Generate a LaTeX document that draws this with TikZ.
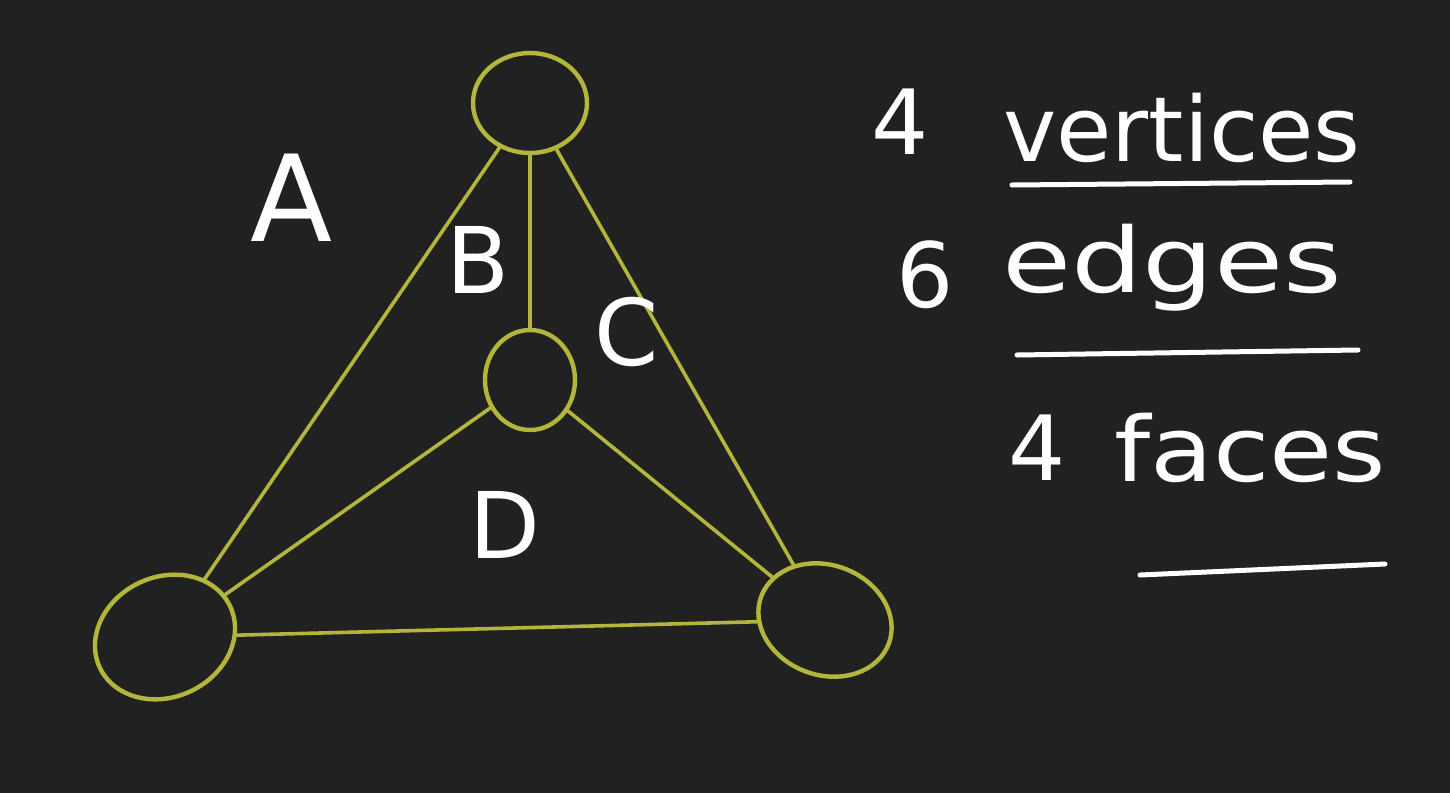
\documentclass[tikz,border=0pt]{standalone}
\usepackage{fontspec}
\setmainfont{DejaVu Sans}
\usetikzlibrary{shapes.geometric}
\definecolor{bg}{HTML}{212121}
\definecolor{olive}{HTML}{B3B63A}
\tikzset{
  vert/.style={draw=olive, line width=2.2pt, ellipse, inner sep=0pt},
  edge/.style={draw=olive, line width=1.8pt, line cap=round},
  lbl/.style={text=white, font=\fontsize{46}{46}\selectfont},
  txt/.style={text=white, font=\fontsize{45}{45}\selectfont}
}
\begin{document}
\begin{tikzpicture}[x=0.5pt,y=-0.5pt]
\fill[bg] (0,0) rectangle (1450,793);
\useasboundingbox (0,0) rectangle (1450,793);
\node[vert, minimum width=57pt, minimum height=50pt] (top) at (530,103) {};
\node[vert, minimum width=45pt, minimum height=50pt] (mid) at (530,380) {};
\node[vert, minimum width=72pt, minimum height=60pt, rotate=25] (left) at (165,637) {};
\node[vert, minimum width=68pt, minimum height=55pt, rotate=-20] (right) at (825,620) {};
\draw[edge] (top) -- (left);
\draw[edge] (top) -- (mid);
\draw[edge] (top) -- (right);
\draw[edge] (mid) -- (left);
\draw[edge] (mid) -- (right);
\draw[edge] (left) -- (right);
\node[lbl, font=\fontsize{60}{60}\selectfont] (A) at (292,198) {A};
\node[lbl] (B) at (478,260) {B};
\node[lbl] (C) at (627,332) {C};
\node[lbl] (D) at (505,525) {D};
\node[txt] (n1) at (900,122) {4};
\node[txt, xscale=1.0] (w1) at (1182,128) {vertices};
\node[txt] (n2) at (925,275) {6};
\node[txt, xscale=1.25] (w2) at (1172,268) {edges};
\node[txt] (n3) at (1037,448) {4};
\node[txt, xscale=1.14] (w3) at (1250,448) {faces};
\coordinate (u1a) at (1012,185); \coordinate (u1b) at (1350,182);
\coordinate (u2a) at (1017,355); \coordinate (u2b) at (1358,350);
\coordinate (u3a) at (1140,575); \coordinate (u3b) at (1385,564);
\draw[draw=white, line width=2.5pt, line cap=round] (u1a) -- (u1b);
\draw[draw=white, line width=2.5pt, line cap=round] (u2a) -- (u2b);
\draw[draw=white, line width=2.5pt, line cap=round] (u3a) -- (u3b);
\end{tikzpicture}
\end{document}
